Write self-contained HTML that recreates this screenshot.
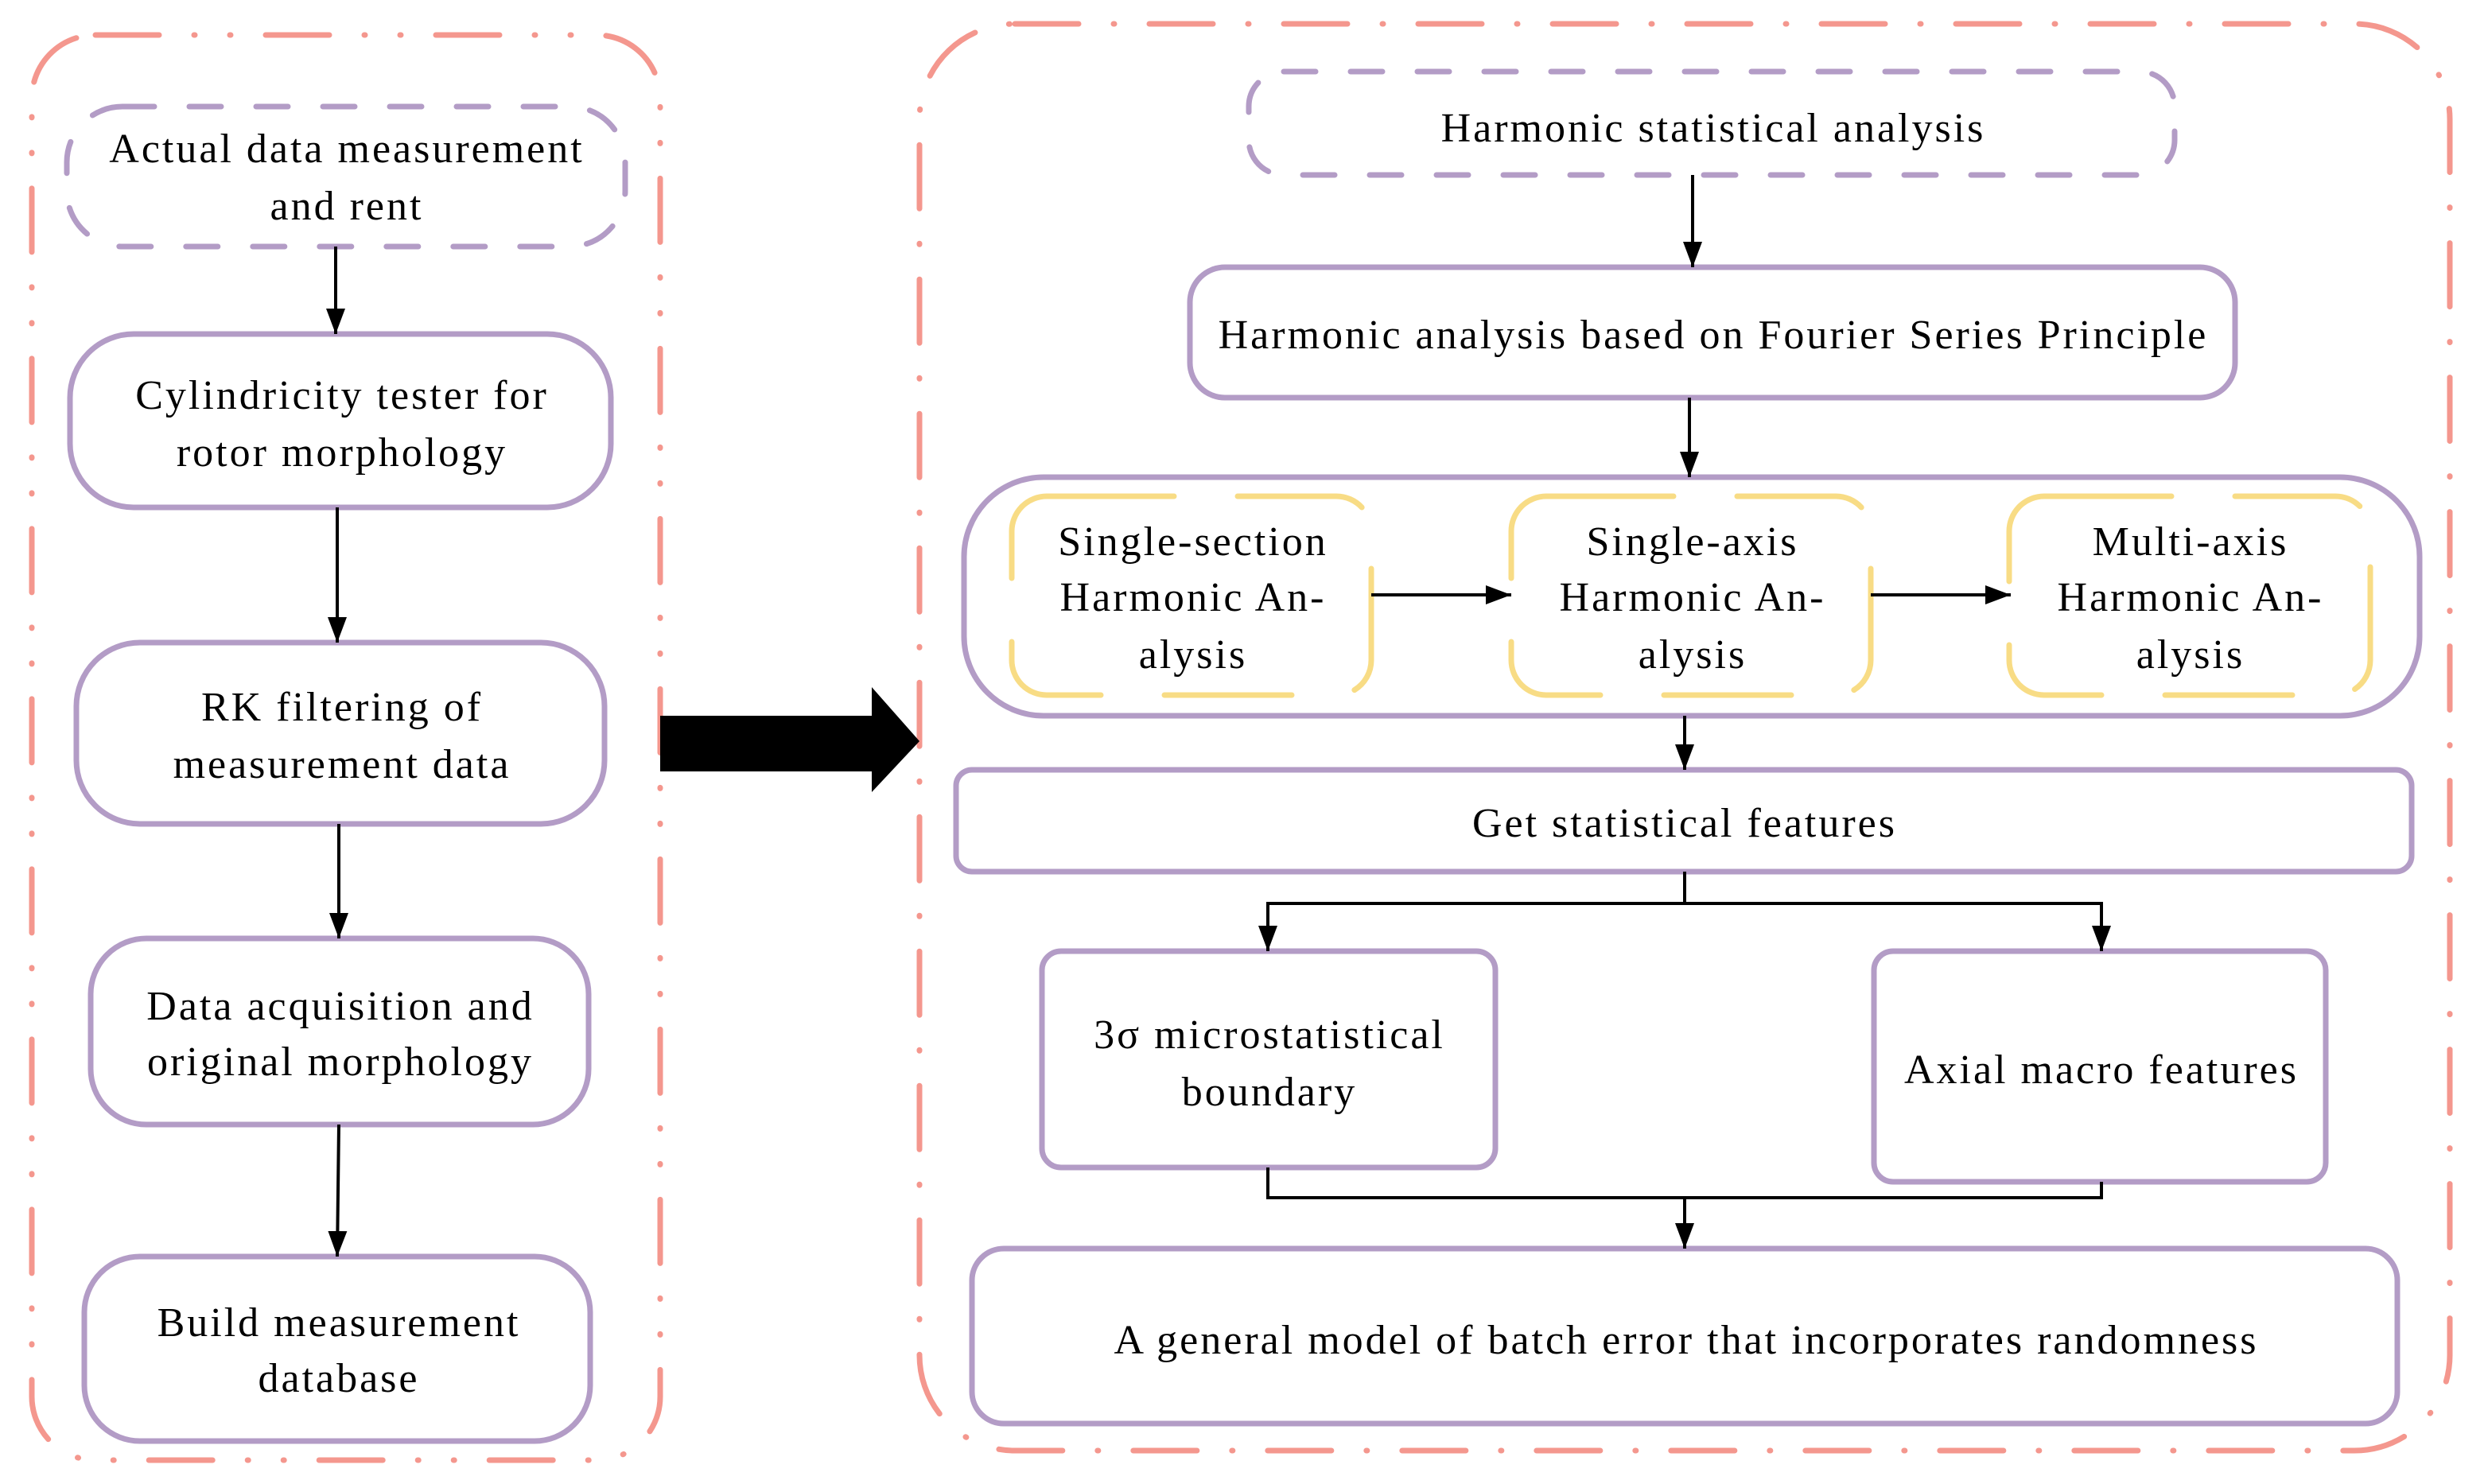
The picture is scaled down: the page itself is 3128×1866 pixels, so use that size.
<!DOCTYPE html>
<html><head><meta charset="utf-8"><style>html,body{margin:0;padding:0;background:#fff}svg{display:block}text{font-family:"Liberation Serif","DejaVu Serif",serif;font-size:26px;letter-spacing:1.5px}</style></head><body>
<svg width="3128" height="1866" viewBox="0 0 1564 933" xmlns="http://www.w3.org/2000/svg" text-anchor="middle">
<defs><marker id="a" viewBox="0 0 10 10" refX="10" refY="5" markerWidth="16" markerHeight="12" orient="auto" markerUnits="userSpaceOnUse" preserveAspectRatio="none"><path d="M0,0L10,5L0,10z"/></marker></defs>
<g fill="none" stroke="#F4978E" stroke-width="3.5" stroke-linecap="round">
<rect x="20" y="22" width="395" height="896" rx="40" stroke-dasharray="40,22,0.5,22,0.5,22"/>
<rect x="578" y="15" width="962" height="897" rx="60" stroke-dasharray="40,22,0.5,22"/>
</g>
<g fill="none" stroke="#B39CC6" stroke-width="3.5" stroke-linecap="round">
<rect x="42" y="67" width="351" height="88" rx="35" stroke-dasharray="20,22"/>
<rect x="785" y="45" width="582" height="65" rx="22" stroke-dasharray="20,22"/>
<rect x="44" y="210" width="340" height="109" rx="40"/>
<rect x="48" y="404" width="332" height="114" rx="40"/>
<rect x="57" y="590" width="313" height="117" rx="35"/>
<rect x="53" y="790" width="318" height="116" rx="35"/>
<rect x="748" y="168" width="657" height="82" rx="22"/>
<rect x="606" y="300" width="915" height="150" rx="50"/>
<rect x="601" y="484" width="915" height="64" rx="10"/>
<rect x="655" y="598" width="285" height="136" rx="12"/>
<rect x="1178" y="598" width="284" height="145" rx="12"/>
<rect x="611" y="785" width="896" height="110" rx="20"/>
</g>
<g fill="none" stroke="#F8DC85" stroke-width="3.5" stroke-linecap="round" stroke-dasharray="80,40">
<rect x="636" y="312" width="226" height="125" rx="22"/>
<rect x="950" y="312" width="226" height="125" rx="22"/>
<rect x="1263" y="312" width="227" height="125" rx="22"/>
</g>
<g stroke="#000" stroke-width="2" fill="none">
<line x1="211" y1="155" x2="211" y2="210" marker-end="url(#a)"/>
<line x1="212" y1="319" x2="212" y2="404" marker-end="url(#a)"/>
<line x1="213" y1="518" x2="213" y2="590" marker-end="url(#a)"/>
<line x1="213" y1="707" x2="212" y2="790" marker-end="url(#a)"/>
<line x1="1064" y1="110" x2="1064" y2="168" marker-end="url(#a)"/>
<line x1="1062" y1="250" x2="1062" y2="300" marker-end="url(#a)"/>
<line x1="862" y1="374" x2="950" y2="374" marker-end="url(#a)"/>
<line x1="1176" y1="374" x2="1264" y2="374" marker-end="url(#a)"/>
<line x1="1059" y1="450" x2="1059" y2="484" marker-end="url(#a)"/>
<polyline points="1059,548 1059,568"/>
<polyline points="797,580 797,568 1321,568 1321,580" />
<line x1="797" y1="575" x2="797" y2="598" marker-end="url(#a)"/>
<line x1="1321" y1="575" x2="1321" y2="598" marker-end="url(#a)"/>
<polyline points="797,734 797,753 1321,753 1321,743"/>
<line x1="1059" y1="753" x2="1059" y2="785" marker-end="url(#a)"/>
</g>
<path d="M415,450H548V432L578,466L548,498V485H415z" fill="#000"/>
<g fill="#000">
<text x="218" y="102">Actual data measurement</text><text x="218" y="138">and rent</text>
<text x="215" y="257">Cylindricity tester for</text><text x="215" y="293">rotor morphology</text>
<text x="215" y="453">RK filtering of</text><text x="215" y="489">measurement data</text>
<text x="214" y="641">Data acquisition and</text><text x="214" y="676">original morphology</text>
<text x="213" y="840">Build measurement</text><text x="213" y="875">database</text>
<text x="1077" y="89">Harmonic statistical analysis</text>
<text x="1077" y="219">Harmonic analysis based on Fourier Series Principle</text>
<text x="750" y="349">Single-section</text><text x="750" y="384">Harmonic An-</text><text x="750" y="420">alysis</text>
<text x="1064" y="349">Single-axis</text><text x="1064" y="384">Harmonic An-</text><text x="1064" y="420">alysis</text>
<text x="1377" y="349">Multi-axis</text><text x="1377" y="384">Harmonic An-</text><text x="1377" y="420">alysis</text>
<text x="1059" y="526">Get statistical features</text>
<text x="798" y="659">3σ microstatistical</text><text x="798" y="695">boundary</text>
<text x="1321" y="681">Axial macro features</text>
<text x="1060" y="851">A general model of batch error that incorporates randomness</text>
</g>
</svg>
</body></html>
